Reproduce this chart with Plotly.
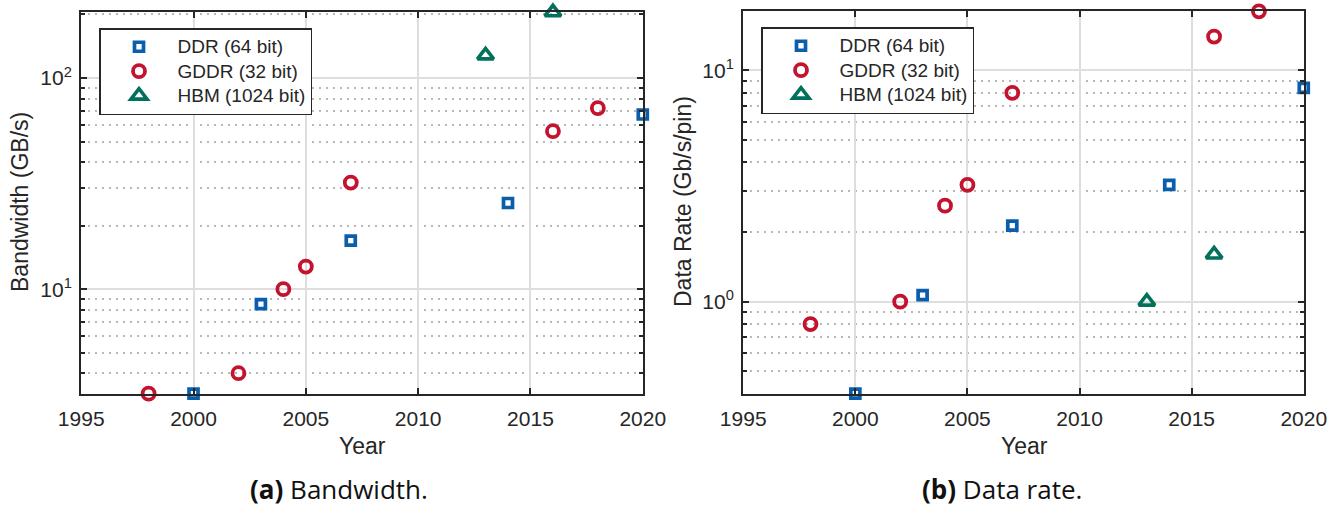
import math
import plotly.graph_objects as go

W, H = 1338, 506

# ---- data ----
ddr_years = [2000, 2003, 2007, 2014, 2020]
gddr_years = [1998, 2002, 2004, 2005, 2007, 2016, 2018]
hbm_years = [2013, 2016]

ddr_bw = [3.2, 8.5, 17.0, 25.6, 67.2]
gddr_bw = [3.2, 4.0, 10.0, 12.8, 32.0, 56.0, 72.0]
hbm_bw = [128.0, 204.8]

ddr_rate = [0.4, 1.066, 2.133, 3.2, 8.4]
gddr_rate = [0.8, 1.0, 2.6, 3.2, 8.0, 14.0, 18.0]
hbm_rate = [1.0, 1.6]

series_names = ["DDR (64 bit)", "GDDR (32 bit)", "HBM (1024 bit)"]
x_ticks = [1995, 2000, 2005, 2010, 2015, 2020]
bw_major = [10, 100]
bw_major_text = ["10<sup>1</sup>", "10<sup>2</sup>"]
bw_minor = [4, 5, 6, 7, 8, 9, 20, 30, 40, 50, 60, 70, 80, 90, 200]
rate_major = [1, 10]
rate_major_text = ["10<sup>0</sup>", "10<sup>1</sup>"]
rate_minor = [0.5, 0.6, 0.7, 0.8, 0.9, 2, 3, 4, 5, 6, 7, 8, 9]

BLUE = "#0a5eab"
RED = "#c3132e"
GREEN = "#02715c"
INK = "#262626"
FONT = "Liberation Sans, Arial, sans-serif"
CAP_FONT = "Open Sans, Noto Sans, sans-serif"

styles = [
    dict(symbol="square-open", size=9, color=BLUE, line=dict(width=3.7, color=BLUE)),
    dict(symbol="circle-open", size=12, color=RED, line=dict(width=3.8, color=RED)),
    dict(symbol="triangle-up-open", size=14, color=GREEN, line=dict(width=3.6, color=GREEN)),
]

fig = go.Figure()

left_sets = [(ddr_years, ddr_bw), (gddr_years, gddr_bw), (hbm_years, hbm_bw)]
right_sets = [(ddr_years, ddr_rate), (gddr_years, gddr_rate), (hbm_years, hbm_rate)]

def legend_label(name):
    return '<span style="font-size:19px">' + name + "</span>"

for (xs, ys), name, st in zip(left_sets, series_names, styles):
    fig.add_trace(go.Scatter(x=xs, y=ys, mode="markers", name=legend_label(name), marker=st,
                             xaxis="x", yaxis="y", legend="legend", cliponaxis=False))
for (xs, ys), name, st in zip(right_sets, series_names, styles):
    fig.add_trace(go.Scatter(x=xs, y=ys, mode="markers", name=legend_label(name), marker=st,
                             xaxis="x2", yaxis="y2", legend="legend2", cliponaxis=False))

def px_x(p):
    return p / W

def px_y(p):
    return 1 - p / H

EPS = 0.0015  # tiny pad so points sitting on the frame are not culled

common_x = dict(
    range=[1995 - 0.01, 2020 + 0.01], tickmode="array", tickvals=x_ticks,
    ticks="inside", ticklen=6, tickwidth=1.8, tickcolor=INK,
    showline=True, linecolor=INK, linewidth=1.8, mirror="ticks",
    showgrid=True, gridcolor="#dedede", gridwidth=2, zeroline=False,
    tickfont=dict(family=FONT, size=21, color=INK), automargin=False,
    ticklabelstandoff=5,
)

def y_axis(rng, major, major_text, minor):
    return dict(
        type="log", range=[math.log10(rng[0]) - EPS, math.log10(rng[1]) + EPS],
        tickmode="array", tickvals=major, ticktext=major_text,
        ticks="inside", ticklen=6, tickwidth=1.8, tickcolor=INK,
        showline=True, linecolor=INK, linewidth=1.8, mirror="ticks",
        showgrid=True, gridcolor="#dedede", gridwidth=2, zeroline=False,
        tickfont=dict(family=FONT, size=21, color=INK), automargin=False,
        ticklabelstandoff=3,
        minor=dict(tickmode="array", tickvals=minor, ticks="inside", ticklen=4,
                   tickwidth=1.5, tickcolor=INK, showgrid=True,
                   gridcolor="#b8b8b8", gridwidth=1.5, griddash="2px,5px"),
    )

x1 = dict(common_x, domain=[px_x(81), px_x(643)], anchor="y")
x2 = dict(common_x, domain=[px_x(743), px_x(1304)], anchor="y2")
y1 = dict(y_axis([3.2, 204.8], bw_major, bw_major_text, bw_minor),
          domain=[px_y(394), px_y(12)], anchor="x")
y2 = dict(y_axis([0.4, 18], rate_major, rate_major_text, rate_minor),
          domain=[px_y(394), px_y(11)], anchor="x2")

legend_common = dict(
    xanchor="left", yanchor="top", bgcolor="white",
    bordercolor=INK, borderwidth=1.5,
    font=dict(family=FONT, size=16.5, color=INK),
    itemwidth=67, tracegroupgap=0, itemclick=False, itemdoubleclick=False,
)

def ann(text, x, y, size, family=FONT, angle=0, color=INK):
    return dict(text=text, x=px_x(x), y=px_y(y), xref="paper", yref="paper",
                xanchor="center", yanchor="middle", showarrow=False, textangle=angle,
                font=dict(family=family, size=size, color=color))

annotations = [
    ann("Year", 362, 446, 23),
    ann("Year", 1024, 446, 23),
    ann("Bandwidth (GB/s)", 20, 202, 23, angle=-90),
    ann("Data Rate (Gb/s/pin)", 683, 202, 23, angle=-90),
    ann("<b>(a)</b> Bandwidth.", 339, 489, 26, family=CAP_FONT, color="#111111"),
    ann("<b>(b)</b> Data rate.", 1002, 489, 26, family=CAP_FONT, color="#111111"),
]

fig.update_layout(
    template="none",
    width=W, height=H, autosize=False,
    margin=dict(l=0, r=0, t=0, b=0, pad=0, autoexpand=False),
    paper_bgcolor="white", plot_bgcolor="white",
    font=dict(family=FONT, color=INK),
    xaxis=x1, yaxis=y1, xaxis2=x2, yaxis2=y2,
    legend=dict(legend_common, x=px_x(99), y=px_y(28)),
    legend2=dict(legend_common, x=px_x(761), y=px_y(27)),
    annotations=annotations,
    showlegend=True,
)

fig.write_html("out.html", config=dict(displayModeBar=False))
